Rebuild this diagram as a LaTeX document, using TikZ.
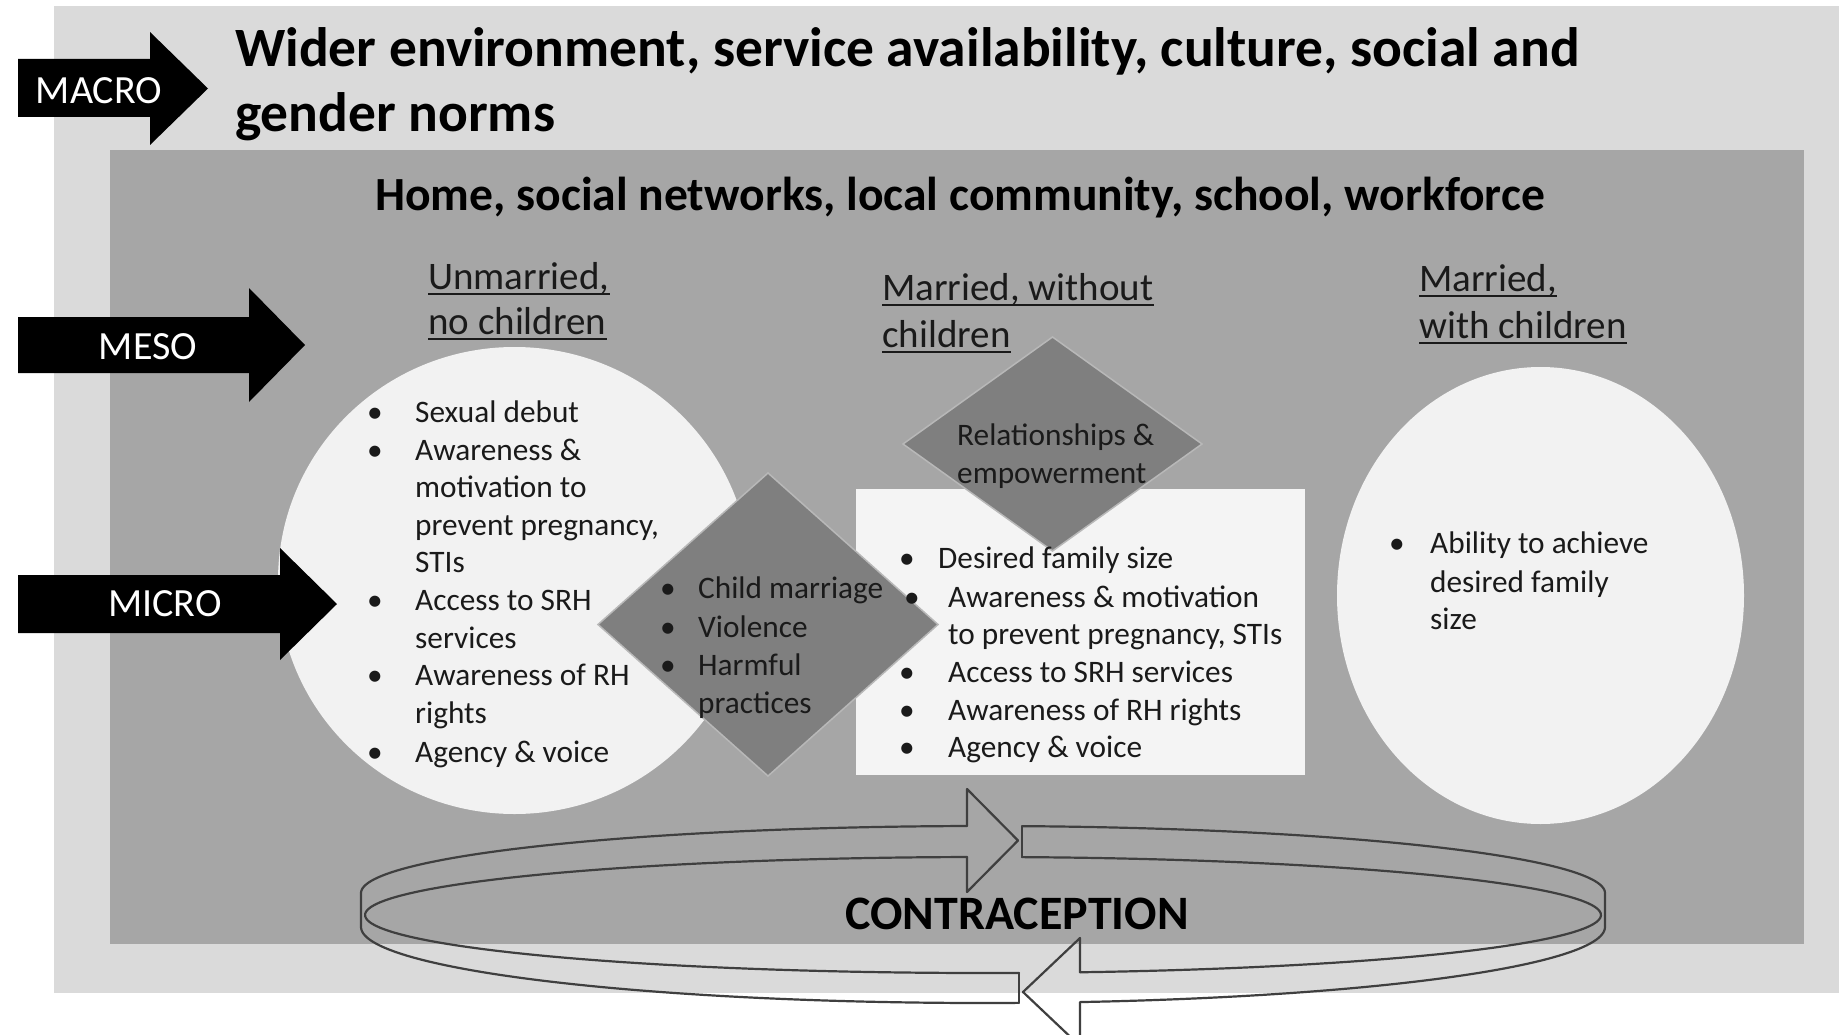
\documentclass[tikz,border=0pt]{standalone}
\usepackage{fontspec}
\setmainfont{Carlito}
\definecolor{outerc}{HTML}{DADADA}
\definecolor{innerc}{HTML}{A6A6A6}
\definecolor{circc}{HTML}{F2F2F2}
\definecolor{rectc}{HTML}{F4F4F4}
\definecolor{diamc}{HTML}{7F7F7F}
\definecolor{diamedge}{HTML}{B8B8B8}
\definecolor{ringc}{HTML}{3F3F3F}
\definecolor{txtc}{HTML}{1A1A1A}
\begin{document}
\begin{tikzpicture}[x=1pt,y=-1pt,
  itm/.style={anchor=base west, inner sep=0pt, text=txtc, font=\fontsize{31.3}{37}\selectfont},
  head/.style={anchor=base west, inner sep=0pt, text=txtc, font=\fontsize{39}{47}\selectfont},
  lvl/.style={anchor=base, inner sep=0pt, text=white, font=\fontsize{40}{47}\selectfont},
  uline/.style={draw=txtc, line width=2.4pt},
  ring/.style={draw=ringc, line width=2.2pt, line join=round, line cap=round},
  diam/.style={fill=diamc, draw=diamedge, line width=1.5pt}]
\useasboundingbox (0,0) rectangle (1839,1035);
\fill[white] (0,0) rectangle (1839,1035);
\fill[outerc] (54,6) rectangle (1839,993);
\fill[innerc] (110,150) rectangle (1804,944);

% titles
\node[anchor=base west, inner sep=0pt, font=\fontsize{55.5}{65}\selectfont\bfseries] (t1) at (235,67) {Wider environment, service availability, culture, social and};
\node[anchor=base west, inner sep=0pt, font=\fontsize{55.5}{65}\selectfont\bfseries] (t2) at (235,132) {gender norms};
\node[anchor=base west, inner sep=0pt, font=\fontsize{47.6}{55}\selectfont\bfseries] (home) at (375,211) {Home, social networks, local community, school, workforce};

% shapes
\fill[circc] (514.5,580.5) ellipse [x radius=236.5pt, y radius=233.5pt];
\fill[circc] (1540.5,595.5) ellipse [x radius=203.5pt, y radius=228.5pt];
\fill[rectc] (856,489) rectangle (1305,775);
\path[diam] (598,624.5) -- (768,473) -- (938,624.5) -- (768,776) -- cycle;
\path[diam] (903,444) -- (1052.5,337) -- (1202,444) -- (1052.5,551) -- cycle;

% level arrows
\fill[black] (18,59) -- (150,59) -- (150,32) -- (208,88.5) -- (150,145) -- (150,117) -- (18,117) -- cycle;
\fill[black] (18,317) -- (249,317) -- (249,288) -- (305,345) -- (249,402) -- (249,373) -- (18,373) -- cycle;
\fill[black] (18,575) -- (280,575) -- (280,548) -- (337,604) -- (280,660) -- (280,633) -- (18,633) -- cycle;
\node[lvl] (macro) at (99,104) {MACRO};
\node[lvl] (meso) at (148,359) {MESO};
\node[lvl] (micro) at (165,616) {MICRO};

% stage headings
\node[head] (h1a) at (428,289) {Unmarried,};
\node[head] (h1b) at (428,334) {no children};
\node[head] (h2a) at (882,300) {Married, without};
\node[head] (h2b) at (882,347) {children};
\node[head] (h3a) at (1419,291) {Married,};
\node[head] (h3b) at (1419,338) {with children};
\foreach \n in {h1a,h1b,h2a,h2b,h3a,h3b}
  \draw[uline] ([yshift=-5pt]\n.base west) -- ([yshift=-5pt]\n.base east);

% left list
\node[itm] (lb1) at (367,422) {\textbullet};  \node[itm] (l1) at (415,422) {Sexual debut};
\node[itm] (lb2) at (367,460) {\textbullet};  \node[itm] (l2) at (415,460) {Awareness \&};
\node[itm] (l3) at (415,497) {motivation to};
\node[itm] (l4) at (415,535) {prevent pregnancy,};
\node[itm] (l5) at (415,572) {STIs};
\node[itm] (lb6) at (367,610) {\textbullet};  \node[itm] (l6) at (415,610) {Access to SRH};
\node[itm] (l7) at (415,648) {services};
\node[itm] (lb8) at (367,685) {\textbullet};  \node[itm] (l8) at (415,685) {Awareness of RH};
\node[itm] (l9) at (415,723) {rights};
\node[itm] (lb10) at (367,762) {\textbullet}; \node[itm] (l10) at (415,762) {Agency \& voice};

% diamond 1 list
\node[itm] (db1) at (660,598) {\textbullet}; \node[itm] (d1) at (698,598) {Child marriage};
\node[itm] (db2) at (660,637) {\textbullet}; \node[itm] (d2) at (698,637) {Violence};
\node[itm] (db3) at (660,675) {\textbullet}; \node[itm] (d3) at (698,675) {Harmful};
\node[itm] (d4) at (698,713) {practices};

% diamond 2 text
\node[itm] (r1) at (957,445) {Relationships \&};
\node[itm] (r2) at (957,483) {empowerment};

% rectangle list
\node[itm] (mb1) at (899,568) {\textbullet}; \node[itm] (m1) at (938,568) {Desired family size};
\node[itm] (mb2) at (904,607) {\textbullet}; \node[itm] (m2) at (948,607) {Awareness \& motivation};
\node[itm] (m3) at (948,644) {to prevent pregnancy, STIs};
\node[itm] (mb4) at (899,682) {\textbullet}; \node[itm] (m4) at (948,682) {Access to SRH services};
\node[itm] (mb5) at (899,720) {\textbullet}; \node[itm] (m5) at (948,720) {Awareness of RH rights};
\node[itm] (mb6) at (899,757) {\textbullet}; \node[itm] (m6) at (948,757) {Agency \& voice};

% right list
\node[itm] (rb1) at (1389,553) {\textbullet}; \node[itm] (q1) at (1430,553) {Ability to achieve};
\node[itm] (q2) at (1430,592) {desired family};
\node[itm] (q3) at (1430,629) {size};

% contraception ring
\draw[ring] plot[domain=91.5:180, samples=60] ({983+622*cos(\x)},{893-67*sin(\x)})
  -- plot[domain=180:273.3, samples=60] ({983+622*cos(\x)},{927-76*sin(\x)});
\draw[ring] plot[domain=279:360, samples=60] ({983+622*cos(\x)},{927-76*sin(\x)})
  -- plot[domain=0:86.4, samples=60] ({983+622*cos(\x)},{893-67*sin(\x)});
\draw[ring] plot[domain=91.48:273.34, samples=80] ({983+618*cos(\x)},{915-58*sin(\x)});
\draw[ring] plot[domain=-80.97:86.38, samples=80] ({983+618*cos(\x)},{915-58*sin(\x)});
\coordinate (ta1) at (967,857);
\coordinate (ta2) at (967,826);
\draw[ring] (ta1) -- (967,892) -- (1018,840.5) -- (967,789) -- (ta2);
\draw[ring] (1022,826.1) -- (1022,857.1);
\draw[ring] (1019,1002.9) -- (1019,972.9);
\coordinate (ba1) at (1080,972.3);
\coordinate (ba2) at (1080,1002.1);
\draw[ring] (ba1) -- (1080,938) -- (1023,992) -- (1080,1046) -- (ba2);
\node[anchor=base, inner sep=0pt, font=\fontsize{48}{57}\selectfont\bfseries] (contra) at (1017,929) {CONTRACEPTION};
\end{tikzpicture}
\end{document}
